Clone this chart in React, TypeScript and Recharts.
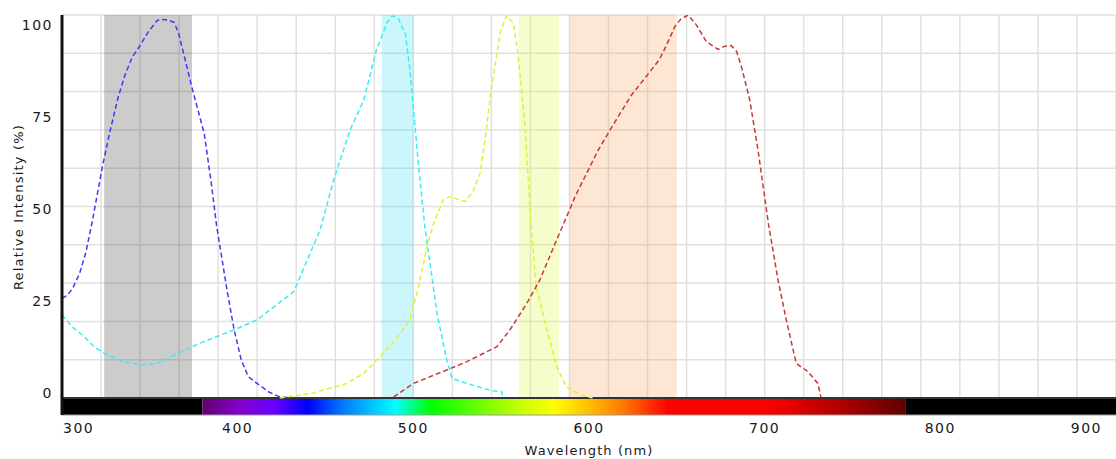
import React from "react";
import {
  CartesianGrid,
  ComposedChart,
  Line,
  ReferenceArea,
  ReferenceLine,
  XAxis,
  YAxis
} from "recharts";

// wavelength (nm) / relative intensity (%)
const violetEx = [
  { nm: 300, v: 26 }, { nm: 303, v: 26.8 }, { nm: 306, v: 28.6 }, { nm: 310, v: 32.5 },
  { nm: 313.6, v: 38 }, { nm: 317.4, v: 46.5 }, { nm: 323, v: 60.4 }, { nm: 327, v: 69 },
  { nm: 332, v: 78.6 }, { nm: 336, v: 84.5 }, { nm: 340, v: 89 }, { nm: 344, v: 91.7 },
  { nm: 349, v: 95.5 }, { nm: 354, v: 98.5 }, { nm: 356, v: 98.9 }, { nm: 361, v: 98.6 },
  { nm: 364, v: 98 }, { nm: 366.5, v: 95 }, { nm: 370, v: 88.5 }, { nm: 374, v: 81 },
  { nm: 381, v: 69 }, { nm: 385, v: 56 }, { nm: 388, v: 45 }, { nm: 394, v: 28 },
  { nm: 398, v: 17.8 }, { nm: 402, v: 10 }, { nm: 406, v: 5.6 }, { nm: 411, v: 3.8 },
  { nm: 418, v: 1.5 }, { nm: 424, v: 0.3 }, { nm: 431, v: 0 }
];

const cyanEm = [
  { nm: 300, v: 21.7 }, { nm: 306, v: 18.5 }, { nm: 312.7, v: 16 }, { nm: 318, v: 13.5 },
  { nm: 324, v: 11.7 }, { nm: 334, v: 9.6 }, { nm: 345, v: 8.6 }, { nm: 354, v: 9 },
  { nm: 360, v: 10.2 }, { nm: 367.6, v: 12 }, { nm: 379, v: 14.4 }, { nm: 398, v: 17.8 },
  { nm: 411, v: 20.4 }, { nm: 432, v: 27.8 }, { nm: 439.6, v: 36 }, { nm: 447, v: 44 },
  { nm: 454.7, v: 57 }, { nm: 464, v: 70 }, { nm: 471.8, v: 77.8 }, { nm: 479, v: 90.9 },
  { nm: 485, v: 98 }, { nm: 488, v: 99.8 }, { nm: 491.6, v: 99 }, { nm: 495.5, v: 95 },
  { nm: 498, v: 86 }, { nm: 500.2, v: 75 }, { nm: 503, v: 60.4 }, { nm: 506.5, v: 45 },
  { nm: 508.7, v: 37.8 }, { nm: 513.5, v: 22 }, { nm: 519, v: 10 }, { nm: 522, v: 5.1 },
  { nm: 530.5, v: 3.8 }, { nm: 543.8, v: 2 }, { nm: 550.4, v: 1.6 }, { nm: 551, v: 0 }
];

const yellowEm = [
  { nm: 424, v: 0 }, { nm: 443, v: 1.3 }, { nm: 462, v: 3.8 }, { nm: 471.8, v: 6.4 },
  { nm: 481, v: 10.8 }, { nm: 490.7, v: 15.6 }, { nm: 498, v: 20.4 }, { nm: 503, v: 29 },
  { nm: 507.8, v: 39.5 }, { nm: 511.5, v: 45.5 }, { nm: 517, v: 51.7 }, { nm: 521, v: 52.6 },
  { nm: 524.8, v: 52 }, { nm: 529.5, v: 51.3 }, { nm: 534, v: 54 }, { nm: 538, v: 58.7 },
  { nm: 541, v: 68 }, { nm: 543.8, v: 78.7 }, { nm: 549.4, v: 95.4 }, { nm: 553, v: 99.8 },
  { nm: 557, v: 97.8 }, { nm: 559.8, v: 89 }, { nm: 563.6, v: 70.8 }, { nm: 567, v: 45 },
  { nm: 570, v: 29 }, { nm: 576, v: 17.8 }, { nm: 581.6, v: 8.2 }, { nm: 587, v: 3 },
  { nm: 595, v: 0.8 }, { nm: 602, v: 0 }
];

const redEm = [
  { nm: 488.8, v: 0.3 }, { nm: 500, v: 3.8 }, { nm: 519, v: 7.3 }, { nm: 530.5, v: 9.5 },
  { nm: 547.6, v: 13.4 }, { nm: 555, v: 17.8 }, { nm: 564.6, v: 24.7 }, { nm: 572, v: 30.8 },
  { nm: 581.6, v: 41.3 }, { nm: 586.5, v: 46.5 }, { nm: 592, v: 52.5 }, { nm: 598.7, v: 58.7 },
  { nm: 605, v: 64.5 }, { nm: 612, v: 70 }, { nm: 624, v: 79 }, { nm: 634.7, v: 85.2 },
  { nm: 640, v: 88.3 }, { nm: 644, v: 92 }, { nm: 648.9, v: 97 }, { nm: 652, v: 98.8 },
  { nm: 656.4, v: 100 }, { nm: 661, v: 97.5 }, { nm: 666.9, v: 93 }, { nm: 673.5, v: 91 },
  { nm: 677, v: 91.8 }, { nm: 681, v: 92 }, { nm: 684, v: 90.5 }, { nm: 686.8, v: 86.5 },
  { nm: 691.5, v: 77.8 }, { nm: 696.2, v: 64.8 }, { nm: 702.3, v: 45 }, { nm: 707.6, v: 30.8 },
  { nm: 712.3, v: 20.4 }, { nm: 718, v: 9 }, { nm: 724.6, v: 6.9 }, { nm: 730.3, v: 3.8 },
  { nm: 732, v: 0.3 }
];

// filter bands [from, to] in nm
const bandRanges = [
  [324, 374],
  [482, 500],
  [560, 583],
  [589, 650]
];
const bandColors = ["#3a3a3a", "#33dcf2", "#dcf63a", "#f8a058"];

const xTicks = [300, 400, 500, 600, 700, 800, 900];
const yTicks = [0, 25, 50, 75, 100];

// visible spectrum, nm -> colour
const spectrumStops = [
  { nm: 380, c: "#640070" },
  { nm: 400, c: "#8400c8" },
  { nm: 420, c: "#6a00ff" },
  { nm: 440, c: "#0000ff" },
  { nm: 460, c: "#007bff" },
  { nm: 490, c: "#00ffff" },
  { nm: 510, c: "#00ff00" },
  { nm: 560, c: "#c3ff00" },
  { nm: 580, c: "#ffff00" },
  { nm: 600, c: "#ffbe00" },
  { nm: 620, c: "#ff7700" },
  { nm: 645, c: "#ff0000" },
  { nm: 700, c: "#ff0000" },
  { nm: 740, c: "#b50000" },
  { nm: 760, c: "#8c0000" },
  { nm: 780, c: "#600000" }
];

const X_MIN = 300;
const X_MAX = 900;
const Y_MIN = -4.44; // room for the spectrum strip below 0
const SPEC_FROM = 380;
const SPEC_TO = 780;

const font = "'DejaVu Sans', sans-serif";

function XTick(props: any) {
  const { x, y, payload, index } = props;
  const anchor = index === 0 ? "start" : index === xTicks.length - 1 ? "end" : "middle";
  const dx = index === 0 ? 1 : index === xTicks.length - 1 ? -2 : 0;
  return (
    <text x={x + dx} y={y} dy="0.71em" textAnchor={anchor} fill="#1a1a1a" fontSize={14} fontFamily={font} letterSpacing={1.5}>
      {payload.value}
    </text>
  );
}

function YTick(props: any) {
  const { x, y, payload } = props;
  const v = payload.value as number;
  return (
    <text x={x} y={y + (-5 + 0.15 * v)} dy="0.355em" textAnchor="end" fill="#1a1a1a" fontSize={14} fontFamily={font} letterSpacing={1.5}>
      {v}
    </text>
  );
}

function YLabel(props: any) {
  const vb = props.viewBox || { x: 0, y: 0, width: 62, height: 400 };
  const cx = vb.x + 18;
  const cy = vb.y + vb.height / 2 - 8;
  return (
    <text x={cx} y={cy} transform={`rotate(-90, ${cx}, ${cy})`} textAnchor="middle" dominantBaseline="central" fill="#1a1a1a" fontSize={13} fontFamily={font} letterSpacing={1.2}>
      Relative Intensity (%)
    </text>
  );
}

export default function App() {
  const yScale = (v: number, off: any) => off.top + ((100 - v) / (100 - Y_MIN)) * off.height;
  return (
    <div style={{ position: "absolute", left: 0, top: 0, width: 1116, height: 459, background: "#fff" }}>
      <ComposedChart width={1116} height={459} margin={{ top: 15, right: 0, bottom: 0, left: 0 }}>
        <defs>
          <linearGradient id="spec" x1="0" y1="0" x2="1" y2="0">
            {spectrumStops.map((s) => (
              <stop key={s.nm} offset={(s.nm - SPEC_FROM) / (SPEC_TO - SPEC_FROM)} stopColor={s.c} />
            ))}
          </linearGradient>
        </defs>
        <CartesianGrid
          stroke="#e0e0e0"
          strokeWidth={1.5}
          verticalCoordinatesGenerator={({ offset }: any) =>
            Array.from({ length: 28 }, (_, k) => offset.left + (k * offset.width) / 27)
          }
          horizontalCoordinatesGenerator={({ offset }: any) =>
            Array.from({ length: 11 }, (_, k) => yScale(k * 10, offset))
          }
        />
        <XAxis
          type="number"
          dataKey="nm"
          domain={[X_MIN, X_MAX]}
          ticks={xTicks}
          allowDataOverflow
          height={44}
          tickLine={false}
          axisLine={{ stroke: "#999", strokeWidth: 1 }}
          tick={<XTick />}
          label={{
            value: "Wavelength (nm)",
            position: "insideBottom",
            offset: 4,
            fill: "#1a1a1a",
            fontSize: 13,
            fontFamily: font,
            letterSpacing: 1.1
          }}
        />
        <YAxis
          type="number"
          dataKey="v"
          domain={[Y_MIN, 100]}
          ticks={yTicks}
          allowDataOverflow
          width={62}
          tickLine={false}
          tickSize={7}
          tickMargin={2}
          axisLine={{ stroke: "#111", strokeWidth: 3 }}
          tick={<YTick />}
          label={<YLabel />}
        />
        {bandRanges.map(([a, b], i) => (
          <ReferenceArea key={i} x1={a} x2={b} y1={0} y2={100} fill={bandColors[i]} fillOpacity={0.26} stroke="none" />
        ))}
        <ReferenceArea x1={X_MIN} x2={SPEC_FROM} y1={Y_MIN} y2={0} fill="#000" fillOpacity={1} stroke="none" />
        <ReferenceArea x1={SPEC_FROM} x2={SPEC_TO} y1={Y_MIN} y2={0} fill="url(#spec)" fillOpacity={1} stroke="none" />
        <ReferenceArea x1={SPEC_TO} x2={X_MAX} y1={Y_MIN} y2={0} fill="#000" fillOpacity={1} stroke="none" />
        <ReferenceLine y={0} stroke="#333" strokeWidth={2} />
        <Line data={violetEx} dataKey="v" type="linear" stroke="#3c3cf0" strokeWidth={1.5} strokeDasharray="5 3" dot={false} isAnimationActive={false} />
        <Line data={cyanEm} dataKey="v" type="linear" stroke="#38eef2" strokeWidth={1.5} strokeDasharray="5 3" dot={false} isAnimationActive={false} />
        <Line data={yellowEm} dataKey="v" type="linear" stroke="#e2f032" strokeWidth={1.5} strokeDasharray="5 3" dot={false} isAnimationActive={false} />
        <Line data={redEm} dataKey="v" type="linear" stroke="#c83838" strokeWidth={1.5} strokeDasharray="5 3" dot={false} isAnimationActive={false} />
      </ComposedChart>
    </div>
  );
}
